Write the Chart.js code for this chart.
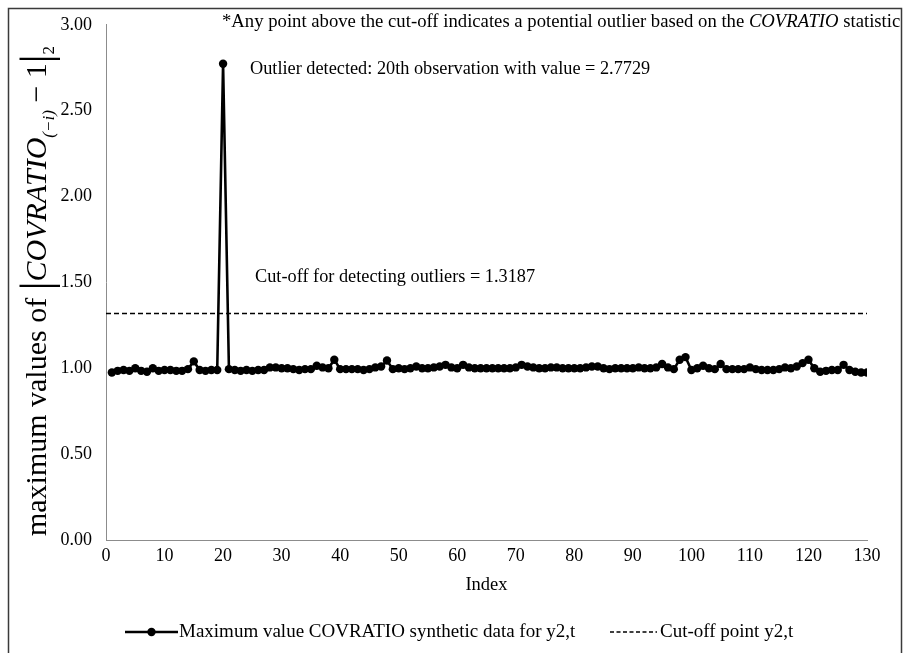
<!DOCTYPE html>
<html><head><meta charset="utf-8">
<script src="https://cdn.jsdelivr.net/npm/chart.js@4.4.1/dist/chart.umd.min.js"></script>
<style>html,body{margin:0;padding:0;background:#fff;}#wrap{width:904px;height:653px;position:relative;}</style>
</head><body><div id="wrap"><canvas id="c" width="904" height="653"></canvas></div>
<script>
const indexValues = [1,2,3,4,5,6,7,8,9,10,11,12,13,14,15,16,17,18,19,20,21,22,23,24,25,26,27,28,29,30,
31,32,33,34,35,36,37,38,39,40,41,42,43,44,45,46,47,48,49,50,51,52,53,54,55,56,57,58,59,60,
61,62,63,64,65,66,67,68,69,70,71,72,73,74,75,76,77,78,79,80,81,82,83,84,85,86,87,88,89,90,
91,92,93,94,95,96,97,98,99,100,101,102,103,104,105,106,107,108,109,110,111,112,113,114,115,116,117,118,119,120,
121,122,123,124,125,126,127,128,129,130];
const covratioValues = [0.975,0.985,0.990,0.985,1.000,0.985,0.980,1.000,0.985,0.990,
0.990,0.985,0.985,0.995,1.040,0.990,0.985,0.990,0.990,2.7729,
0.995,0.990,0.985,0.990,0.985,0.990,0.990,1.005,1.005,1.000,
1.000,0.995,0.990,0.995,0.995,1.015,1.005,1.000,1.050,0.995,
0.995,0.995,0.995,0.990,0.995,1.005,1.010,1.045,0.995,1.000,
0.995,1.000,1.010,1.000,1.000,1.005,1.010,1.020,1.005,1.000,
1.020,1.005,1.000,1.000,1.000,1.000,1.000,1.000,1.000,1.005,
1.020,1.010,1.005,1.000,1.000,1.005,1.005,1.000,1.000,1.000,
1.000,1.005,1.010,1.010,1.000,0.995,1.000,1.000,1.000,1.000,
1.005,1.000,1.000,1.005,1.025,1.005,0.995,1.050,1.065,0.990,
1.000,1.015,1.000,0.995,1.025,0.995,0.995,0.995,0.995,1.005,
0.995,0.990,0.990,0.990,0.995,1.005,1.000,1.010,1.030,1.050,
1.000,0.980,0.985,0.990,0.990,1.020,0.990,0.980,0.975,0.975];
const cutoffX = [0,130];
const cutoffValues = [1.3187,1.3187];
const yTicks = [0,0.5,1,1.5,2,2.5,3];
const seriesLabels = ['Maximum value COVRATIO synthetic data for y2,t','Cut-off point y2,t'];
const noteText = ['*Any point above the cut-off indicates a potential outlier based on the ','COVRATIO',' statistic'];
const outlierText = 'Outlier detected: 20th observation with value = 2.7729';
const cutoffText = 'Cut-off for detecting outliers = 1.3187';
const xTitle = 'Index';

const SERIF = '"Liberation Serif","Times New Roman",serif';

const extras = {
  id:'extras',
  afterDraw(chart){
    const ctx = chart.ctx;
    ctx.save();
    // outer frame
    ctx.strokeStyle = '#3a3a3a'; ctx.lineWidth = 1.5;
    ctx.strokeRect(8.5, 8.5, 893, 660);
    ctx.fillStyle = '#000'; ctx.textBaseline = 'middle'; ctx.textAlign = 'left';
    // note at top
    let x = 222, y = 22;
    ctx.font = '18.7px ' + SERIF;
    ctx.fillText(noteText[0], x, y); x += ctx.measureText(noteText[0]).width;
    ctx.font = 'italic 18.7px ' + SERIF;
    ctx.fillText(noteText[1], x, y); x += ctx.measureText(noteText[1]).width;
    ctx.font = '18.7px ' + SERIF;
    ctx.fillText(noteText[2], x, y);
    // annotation labels
    ctx.font = '18.3px ' + SERIF;
    ctx.fillText(outlierText, 250, 69);
    ctx.fillText(cutoffText, 255, 277);
    // y title
    ctx.save();
    const segs = [
      {t:'maximum values of ', f:'30px '+SERIF, dy:0},
      {t:'|', f:'44px '+SERIF, dy:5},
      {t:'COVRATIO', f:'italic 30px '+SERIF, dy:0},
      {t:'(\u2212i)', f:'italic 17px '+SERIF, dy:8},
      {t:' \u2212 1', f:'30px '+SERIF, dy:0},
      {t:'|', f:'44px '+SERIF, dy:5},
      {t:'2', f:'17px '+SERIF, dy:8}
    ];
    let total = 0;
    segs.forEach(s=>{ctx.font=s.f; s.w=ctx.measureText(s.t).width; total+=s.w;});
    ctx.translate(46, 291);
    ctx.rotate(-Math.PI/2);
    ctx.textBaseline = 'alphabetic';
    let px = -total/2;
    segs.forEach(s=>{ctx.font=s.f; ctx.fillText(s.t, px, s.dy); px+=s.w;});
    ctx.restore();
    // legend
    const ly = 632;
    ctx.strokeStyle = '#000'; ctx.lineWidth = 2.6; ctx.setLineDash([]);
    ctx.beginPath(); ctx.moveTo(125, ly); ctx.lineTo(178, ly); ctx.stroke();
    ctx.beginPath(); ctx.arc(151.5, ly, 4.2, 0, Math.PI*2); ctx.fillStyle='#000'; ctx.fill();
    ctx.font = '19px ' + SERIF; ctx.textBaseline = 'middle';
    ctx.fillText(seriesLabels[0], 179, ly);
    ctx.lineWidth = 1.6; ctx.setLineDash([4,2.5]);
    ctx.beginPath(); ctx.moveTo(610, ly); ctx.lineTo(657, ly); ctx.stroke();
    ctx.setLineDash([]);
    ctx.fillText(seriesLabels[1], 660, ly);
    ctx.restore();
  }
};

new Chart(document.getElementById('c'), {
  type:'line',
  data:{
    datasets:[
      {label:seriesLabels[0], data:indexValues.map((v,i)=>({x:v,y:covratioValues[i]})),
       borderColor:'#000', backgroundColor:'#000', borderWidth:2.6, pointRadius:4.2,
       pointBackgroundColor:'#000', pointBorderWidth:0, tension:0},
      {label:seriesLabels[1], data:cutoffX.map((v,i)=>({x:v,y:cutoffValues[i]})),
       borderColor:'#000', borderWidth:1.6, borderDash:[5,3], pointRadius:0, tension:0}
    ]
  },
  options:{
    responsive:false, animation:false,
    layout:{padding:{left:0,right:37,top:22,bottom:0}},
    plugins:{legend:{display:false}, tooltip:{enabled:false}},
    scales:{
      x:{type:'linear', min:0, max:130,
         afterFit(s){s.height=113;},
         grid:{display:false, drawTicks:false},
         border:{display:true, color:'#8c8c8c', width:1},
         ticks:{stepSize:10, padding:5, color:'#000', font:{family:SERIF, size:18}, maxRotation:0},
         title:{display:true, text:xTitle, color:'#000', font:{family:SERIF, size:18.5}, padding:{top:0,bottom:57}}
      },
      y:{min:0, max:3,
         afterFit(s){s.width=106;},
         afterBuildTicks(s){s.ticks = yTicks.map(v=>({value:v}));},
         grid:{display:false, drawTicks:false},
         border:{display:true, color:'#8c8c8c', width:1},
         ticks:{padding:14, color:'#000', font:{family:SERIF, size:18}, callback:v=>Number(v).toFixed(2)}
      }
    }
  },
  plugins:[extras]
});
</script></body></html>
